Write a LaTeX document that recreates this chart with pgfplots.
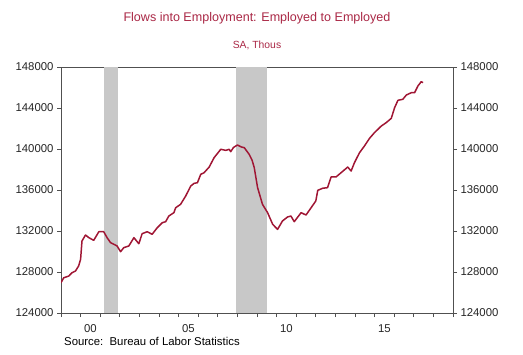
\documentclass[border=0pt]{standalone}
\usepackage{pgfplots}
\pgfplotsset{compat=1.18}
\usepackage{fontspec}
\setmainfont{Liberation Sans}
\definecolor{crim}{RGB}{160,22,52}
\definecolor{ttl}{RGB}{170,40,70}
\definecolor{rec}{RGB}{200,200,200}
\definecolor{axc}{RGB}{80,80,80}
\begin{document}
\begin{tikzpicture}[x=1bp,y=1bp]
\useasboundingbox[fill=white] (0,0) rectangle (523,354);
\node[text=ttl,font=\fontsize{12.6}{14}\selectfont] at (257,336) {Flows into Employment: Employed to Employed};
\node[text=ttl,font=\fontsize{10.4}{12}\selectfont] at (257,309) {SA, Thous};
\node[anchor=base west,font=\fontsize{11.4}{13}\selectfont,inner sep=0pt] at (64,9) {Source:\ \ Bureau of Labor Statistics};
\begin{axis}[
  at={(61bp,41bp)}, anchor=south west, scale only axis,
  width=392bp, height=246bp,
  xmin=1999, xmax=2019, ymin=124000, ymax=148000,
  axis line style={axc, line width=0.8pt},
  tick style={axc, line width=0.8pt},
  tick align=outside, tick pos=left,
  major tick length=4bp,
  xtick={1999,2000,...,2019}, xticklabels={},
  extra x ticks={2000.5,2005.5,2010.5,2015.5},
  extra x tick labels={00,05,10,15},
  extra x tick style={major tick length=0pt, xticklabel style={yshift=-8bp}},
  ytick={124000,128000,...,148000},
  scaled y ticks=false,
  yticklabel style={/pgf/number format/.cd, fixed, set thousands separator={}},
  /pgf/number format/assume math mode=true,
  ticklabel style={font=\fontsize{11.4}{13}\selectfont, text=black!85},
  clip=true,
]
\addplot[fill=rec, draw=none] coordinates {(2001.17,124000) (2001.17,148000) (2001.9,148000) (2001.9,124000)} -- cycle;
\addplot[fill=rec, draw=none] coordinates {(2007.92,124000) (2007.92,148000) (2009.5,148000) (2009.5,124000)} -- cycle;
\addplot[crim, line width=1.5pt, line join=round] coordinates {
(1999.0,126960) (1999.14,127440) (1999.4,127610) (1999.56,127930) (1999.74,128100)
(1999.9,128590) (2000.0,129240) (2000.07,131020) (2000.25,131610) (2000.42,131350)
(2000.67,131090) (2000.93,131930) (2001.18,131930) (2001.35,131350) (2001.53,130860)
(2001.7,130700) (2001.86,130540) (2002.04,129980) (2002.2,130370) (2002.46,130540)
(2002.72,131350) (2002.97,130760) (2003.14,131740) (2003.4,131930) (2003.65,131680)
(2003.91,132320) (2004.17,132810) (2004.34,132910) (2004.5,133460) (2004.76,133790)
(2004.85,134270) (2005.1,134600) (2005.36,135410) (2005.62,136390) (2005.79,136650)
(2005.96,136710) (2006.13,137530) (2006.3,137690) (2006.56,138240) (2006.81,139150)
(2007.15,139970) (2007.41,139870) (2007.58,139970) (2007.66,139740) (2007.8,140150)
(2008.0,140390) (2008.2,140200) (2008.35,140130) (2008.6,139480) (2008.75,138900)
(2008.86,138180) (2009.03,136230) (2009.28,134600) (2009.54,133790) (2009.8,132650)
(2010.05,132160) (2010.3,132980) (2010.56,133370) (2010.73,133460) (2010.9,132910)
(2011.25,133790) (2011.5,133560) (2011.76,134270) (2012.0,134930) (2012.1,135970)
(2012.35,136170) (2012.6,136230) (2012.78,137270) (2013.03,137270) (2013.29,137690)
(2013.63,138240) (2013.8,137850) (2013.97,138660) (2014.23,139640) (2014.48,140290)
(2014.74,141040) (2014.99,141590) (2015.34,142240) (2015.59,142570) (2015.85,142990)
(2016.02,144030) (2016.19,144750) (2016.44,144850) (2016.62,145270) (2016.87,145490)
(2017.04,145490) (2017.21,146150) (2017.38,146570) (2017.47,146470)
};
\end{axis}
\begin{axis}[
  at={(61bp,41bp)}, anchor=south west, scale only axis,
  width=392bp, height=246bp,
  xmin=1999, xmax=2019, ymin=124000, ymax=148000,
  hide x axis, axis y line*=right,
  axis line style={axc, line width=0.8pt},
  tick style={axc, line width=0.8pt},
  tick align=outside, major tick length=4bp,
  ytick={124000,128000,...,148000},
  scaled y ticks=false,
  yticklabel style={/pgf/number format/.cd, fixed, set thousands separator={}},
  /pgf/number format/assume math mode=true,
  ticklabel style={font=\fontsize{11.4}{13}\selectfont, text=black!85},
]
\end{axis}
\end{tikzpicture}
\end{document}
